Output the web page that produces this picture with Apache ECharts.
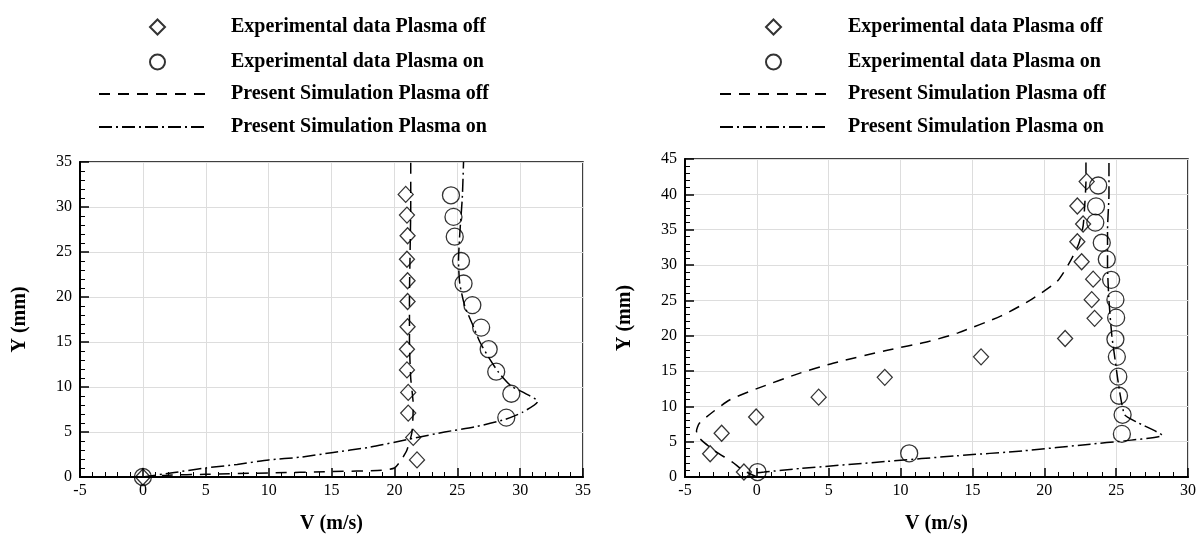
<!DOCTYPE html>
<html>
<head>
<meta charset="utf-8">
<style>
  html, body { margin: 0; padding: 0; background: #fff; }
  #chart { width: 1200px; height: 539px; }
</style>
<script src="https://cdn.jsdelivr.net/npm/echarts@6/dist/echarts.min.js"></script>
</head>
<body>
<div id="chart"></div>
<script>
// names shared by both panels
const markerNames = ['Experimental data Plasma off', 'Experimental data Plasma on']
const lineNames = ['Present Simulation Plasma off', 'Present Simulation Plasma on']

// left panel, [V (m/s), Y (mm)]
const leftExpOff = [
  [0, 0], [21.8, 1.9], [21.5, 4.4], [21.1, 7.1], [21.1, 9.4], [21.0, 11.9], [21.0, 14.2],
  [21.05, 16.7], [21.05, 19.5], [21.05, 21.8], [21.0, 24.2], [21.05, 26.8], [21.0, 29.1], [20.9, 31.4]
]
const leftExpOn = [
  [0, 0], [28.9, 6.6], [29.3, 9.25], [28.1, 11.7], [27.5, 14.2], [26.9, 16.6], [26.2, 19.1],
  [25.5, 21.5], [25.3, 24.0], [24.8, 26.7], [24.7, 28.9], [24.5, 31.3]
]
const leftSimOff = [
  [0, 0], [2, 0.2], [5, 0.3], [10, 0.45], [15, 0.6], [19, 0.75], [20, 1.0], [20.5, 1.8],
  [21, 3], [21.4, 5], [21.5, 8], [21.3, 11], [21.2, 15], [21.2, 20], [21.25, 25], [21.3, 30], [21.3, 35]
]
const leftSimOn = [
  [0, 0], [2.5, 0.5], [5, 1.0], [7.5, 1.4], [10, 1.9], [12.5, 2.2], [15, 2.7], [18, 3.3],
  [21.5, 4.3], [24, 5], [26.5, 5.6], [28.8, 6.4], [30.2, 7.2], [31.4, 8.4], [30.4, 9.3],
  [29.3, 10.1], [28.3, 11.6], [27.5, 13.3], [26.8, 15], [26.2, 17], [25.6, 19], [25.2, 21.5],
  [25.1, 24], [25.2, 27], [25.4, 31], [25.5, 35]
]

// right panel
const rightExpOff = [
  [-0.9, 0.7], [-3.25, 3.3], [-2.45, 6.2], [-0.05, 8.5], [4.3, 11.3], [8.9, 14.1], [15.6, 17.0],
  [21.45, 19.6], [23.5, 22.45], [23.3, 25.1], [23.4, 28.0], [22.6, 30.45], [22.3, 33.3],
  [22.7, 35.8], [22.3, 38.35], [22.95, 41.8]
]
const rightExpOn = [
  [0.05, 0.7], [10.6, 3.35], [25.4, 6.1], [25.45, 8.8], [25.2, 11.5], [25.15, 14.2], [25.05, 17.0],
  [24.95, 19.5], [25.0, 22.55], [24.95, 25.1], [24.65, 27.9], [24.35, 30.8], [24.0, 33.15],
  [23.55, 36.0], [23.6, 38.3], [23.75, 41.25]
]
const rightSimOff = [
  [0, 0], [-1, 1], [-1.7, 2.1], [-3, 3.8], [-4, 5.5], [-4.2, 6.5], [-4, 7.6], [-3, 9.3],
  [-1.9, 10.9], [0, 12.5], [3, 14.7], [5.3, 16.1], [9, 17.9], [12, 19.2], [14, 20.4],
  [17, 22.8], [19, 25], [20.9, 27.7], [21.8, 30.5], [22.4, 33], [22.7, 35.5], [22.8, 38],
  [22.9, 42], [22.9, 45]
]
const rightSimOn = [
  [0, 0.6], [0.5, 0.7], [3, 1.2], [9, 2.2], [13.9, 3.0], [18.5, 3.7], [23.2, 4.65], [25.5, 5.1],
  [28.2, 5.9], [26.4, 7.8], [25.6, 8.8], [25.3, 11.4], [25.1, 14], [24.9, 17], [24.7, 20],
  [24.5, 25], [24.4, 30], [24.4, 35], [24.5, 40], [24.5, 45]
]

const serif = 'Liberation Serif'
const dashed = [11, 8]
const dashDot = [13, 4, 2, 4]

const chart = echarts.init(document.getElementById('chart'))

function xAxisOf(gridIndex, max) {
  return {
    type: 'value', gridIndex, min: -5, max, interval: 5,
    name: 'V (m/s)', nameLocation: 'middle', nameGap: 37,
    nameTextStyle: { fontFamily: serif, fontWeight: 'bold', fontSize: 20, color: '#000' },
    axisLine: { onZero: false, lineStyle: { color: '#000', width: 2 } },
    axisTick: { inside: true, length: 9, lineStyle: { color: '#000', width: 1.5 } },
    minorTick: { show: true, splitNumber: 5, length: 5, lineStyle: { color: '#000', width: 1 } },
    axisLabel: { fontFamily: serif, fontSize: 16, color: '#000', margin: 6 },
    splitLine: { lineStyle: { color: '#ddd', width: 1 } }
  }
}
function yAxisOf(gridIndex, max) {
  return {
    type: 'value', gridIndex, min: 0, max, interval: 5,
    name: 'Y (mm)', nameLocation: 'middle', nameGap: 50,
    nameTextStyle: { fontFamily: serif, fontWeight: 'bold', fontSize: 20, color: '#000' },
    axisLine: { onZero: false, lineStyle: { color: '#000', width: 2 } },
    axisTick: { inside: true, length: 9, lineStyle: { color: '#000', width: 1.5 } },
    minorTick: { show: true, splitNumber: 5, length: 5, lineStyle: { color: '#000', width: 1 } },
    axisLabel: { fontFamily: serif, fontSize: 16, color: '#000', margin: 8 },
    splitLine: { lineStyle: { color: '#ddd', width: 1 } }
  }
}
function seriesOf(idx, expOff, expOn, simOff, simOn) {
  const base = { xAxisIndex: idx, yAxisIndex: idx, color: '#000' }
  return [
    { ...base, name: lineNames[0], type: 'line', data: simOff, symbol: 'none', smooth: 0.2, z: 2,
      lineStyle: { color: '#000', width: 1.5, type: dashed } },
    { ...base, name: lineNames[1], type: 'line', data: simOn, symbol: 'none', smooth: 0.2, z: 2,
      lineStyle: { color: '#000', width: 1.5, type: dashDot } },
    { ...base, name: markerNames[0], type: 'scatter', data: expOff, symbol: 'diamond', symbolSize: [15, 16], z: 3,
      itemStyle: { color: 'transparent', borderColor: '#000', borderWidth: 1.3 } },
    { ...base, name: markerNames[1], type: 'scatter', data: expOn, symbol: 'circle', symbolSize: 17, z: 3,
      itemStyle: { color: 'transparent', borderColor: '#000', borderWidth: 1.3 } }
  ]
}
const legendText = { fontFamily: serif, fontWeight: 'bold', fontSize: 20, color: '#000', lineHeight: 20 }
function markerLegend(left, pad) {
  return {
    orient: 'vertical', left, top: 12, itemWidth: 15, itemHeight: 15, itemGap: 15,
    selectedMode: false, data: markerNames,
    textStyle: { ...legendText, padding: [0, 0, 0, pad] }
  }
}
function lineLegend(left, width, pad) {
  return {
    orient: 'vertical', left, top: 79, itemWidth: width, itemHeight: 14, itemGap: 13,
    selectedMode: false, data: lineNames,
    itemStyle: { opacity: 0 },
    textStyle: { ...legendText, padding: [0, 0, 0, pad] }
  }
}

chart.setOption({
  animation: false,
  legend: [
    markerLegend(144, 61), lineLegend(93, 106, 21),
    markerLegend(760, 62), lineLegend(714, 108, 15)
  ],
  grid: [
    { left: 80, top: 162, width: 503, height: 324, show: true, borderColor: '#000', borderWidth: 1.5 },
    { left: 685, top: 159, width: 503, height: 323, show: true, borderColor: '#000', borderWidth: 1.5 }
  ],
  xAxis: [xAxisOf(0, 35), xAxisOf(1, 30)],
  yAxis: [yAxisOf(0, 35), yAxisOf(1, 45)],
  series: [
    ...seriesOf(0, leftExpOff, leftExpOn, leftSimOff, leftSimOn),
    ...seriesOf(1, rightExpOff, rightExpOn, rightSimOff, rightSimOn)
  ]
})
</script>
</body>
</html>
